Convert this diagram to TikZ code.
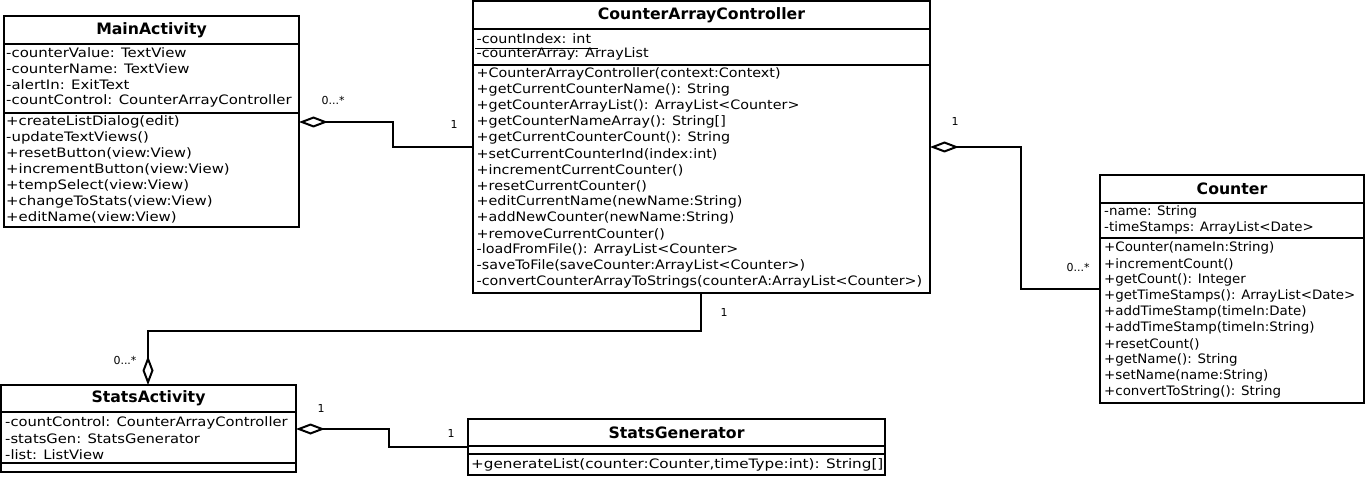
\documentclass[tikz,border=0pt]{standalone}
\usepackage{fontspec}
\usepackage{graphicx}
\setmainfont{DejaVu Sans}
\usetikzlibrary{arrows.meta,calc}
\newcommand\rowfont{\fontsize{13}{15}\selectfont}
\newcommand\ttlfont{\fontsize{15.7}{18}\bfseries\selectfont}
\newcommand\multfont{\fontsize{11}{13}\selectfont}
\newcommand\rowsx{1}
\newcommand\rowtxt[1]{\scalebox{\rowsx}[1]{#1}}
\begin{document}
\begin{tikzpicture}[x=1pt,y=-1pt,
  cls/.style={draw, line width=2pt, anchor=north west, inner sep=0, outer sep=0},
  sep/.style={line width=2pt},
  row/.style={anchor=west, inner sep=0, font=\rowfont},
  ttl/.style={anchor=center, inner sep=0, font=\ttlfont},
  conn/.style={line width=2pt},
  agg/.style={conn, {Diamond[open, length=29pt, width=11pt, line width=2pt]}-},
  mult/.style={inner sep=0, font=\multfont}]
\useasboundingbox (0,0) rectangle (1367,481);
\fill[white] (0,0) rectangle (1367,481);

% ---------- MainActivity ----------
\node[cls, minimum width=295pt, minimum height=211pt] (main) at (4,16) {};
\node[ttl] (main-t) at (151.5,30) {MainActivity};
\draw[sep] (4,44) -- (299,44);
\draw[sep] (4,113) -- (299,113);
\begin{scope}
\renewcommand\rowsx{1.146}
\foreach \t [count=\i] in {-counterValue: TextView,-counterName: TextView,-alertIn: ExitText,-countControl: CounterArrayController}
  \node[row] (main-a\i) at (6,{53+16*(\i-1)}) {\rowtxt{\t}};
\foreach \t [count=\i] in {+createListDialog(edit),-updateTextViews(),+resetButton(view:View),+incrementButton(view:View),+tempSelect(view:View),+changeToStats(view:View),+editName(view:View)}
  \node[row] (main-m\i) at (6,{122+15.9*(\i-1)}) {\rowtxt{\t}};
\end{scope}

% ---------- CounterArrayController ----------
\node[cls, minimum width=457pt, minimum height=292pt] (cac) at (473,1) {};
\node[ttl] (cac-t) at (701.5,15) {CounterArrayController};
\draw[sep] (473,29) -- (930,29);
\draw[sep] (473,65) -- (930,65);
\begin{scope}
\renewcommand\rowsx{1.10}
\node[row] (cac-a1) at (476.5,39) {\rowtxt{-countIndex: int}};
\node[row] (cac-a2) at (476.5,54) {\rowtxt{-counterArray: ArrayList}};
\draw[line width=0.8pt] (475,48.5) -- (598,48.5);
\foreach \t [count=\i] in {+CounterArrayController(context:Context),+getCurrentCounterName(): String,+getCounterArrayList(): ArrayList<Counter>,+getCounterNameArray(): String[],+getCurrentCounterCount(): String,+setCurrentCounterInd(index:int),+incrementCurrentCounter(),+resetCurrentCounter(),+editCurrentName(newName:String),+addNewCounter(newName:String),+removeCurrentCounter(),-loadFromFile(): ArrayList<Counter>,-saveToFile(saveCounter:ArrayList<Counter>),-convertCounterArrayToStrings(counterA:ArrayList<Counter>)}
  \node[row] (cac-m\i) at (476.5,{74+16*(\i-1)}) {\rowtxt{\t}};
\end{scope}

% ---------- Counter ----------
\node[cls, minimum width=264pt, minimum height=228pt] (counter) at (1100,175) {};
\node[ttl] (counter-t) at (1232,189) {Counter};
\draw[sep] (1100,203) -- (1364,203);
\draw[sep] (1100,238) -- (1364,238);
\begin{scope}
\renewcommand\rowsx{1.03}
\node[row] (counter-a1) at (1104,212) {\rowtxt{-name: String}};
\node[row] (counter-a2) at (1104,228) {\rowtxt{-timeStamps: ArrayList<Date>}};
\foreach \t [count=\i] in {+Counter(nameIn:String),+incrementCount(),+getCount(): Integer,+getTimeStamps(): ArrayList<Date>,+addTimeStamp(timeIn:Date),+addTimeStamp(timeIn:String),+resetCount(),+getName(): String,+setName(name:String),+convertToString(): String}
  \node[row] (counter-m\i) at (1104,{248+16*(\i-1)}) {\rowtxt{\t}};
\end{scope}

% ---------- StatsActivity ----------
\node[cls, minimum width=295pt, minimum height=87pt] (sa) at (1,385) {};
\node[ttl] (sa-t) at (148.5,398) {StatsActivity};
\draw[sep] (1,412) -- (296,412);
\draw[sep] (1,463) -- (296,463);
\begin{scope}
\renewcommand\rowsx{1.134}
\foreach \t [count=\i] in {-countControl: CounterArrayController,-statsGen: StatsGenerator,-list: ListView}
  \node[row] (sa-a\i) at (5,{422.5+16*(\i-1)}) {\rowtxt{\t}};
\end{scope}

% ---------- StatsGenerator ----------
\node[cls, minimum width=417pt, minimum height=56pt] (sg) at (468,419) {};
\node[ttl] (sg-t) at (676.5,432.5) {StatsGenerator};
\draw[sep] (468,446) -- (885,446);
\draw[sep] (468,454) -- (885,454);
\begin{scope}
\renewcommand\rowsx{1.17}
\node[row] (sg-m1) at (471,465) {\rowtxt{+generateList(counter:Counter,timeType:int): String[]}};
\end{scope}

% ---------- connectors ----------
\draw[agg] ($(main.north east)+(0,106)$) -- ++(94,0) |- ($(cac.north west)+(0,146)$);
\node[mult] (l1a) at (333,100) {0...*};
\node[mult] (l1b) at (454,124) {1};

\draw[agg] ($(cac.north east)+(0,146)$) -- ++(91,0) |- ($(counter.north west)+(0,114)$);
\node[mult] (l2a) at (955,121) {1};
\node[mult] (l2b) at (1078,267) {0...*};

\draw[agg] ($(sa.north west)+(147,0)$) -- ++(0,-54) -| ($(cac.south west)+(228,0)$);
\node[mult] (l3a) at (724,312) {1};
\node[mult] (l3b) at (125,360) {0...*};

\draw[agg] ($(sa.north east)+(0,44)$) -- ++(93,0) |- ($(sg.north west)+(0,28)$);
\node[mult] (l4a) at (321,408) {1};
\node[mult] (l4b) at (451,433) {1};
\end{tikzpicture}
\end{document}
